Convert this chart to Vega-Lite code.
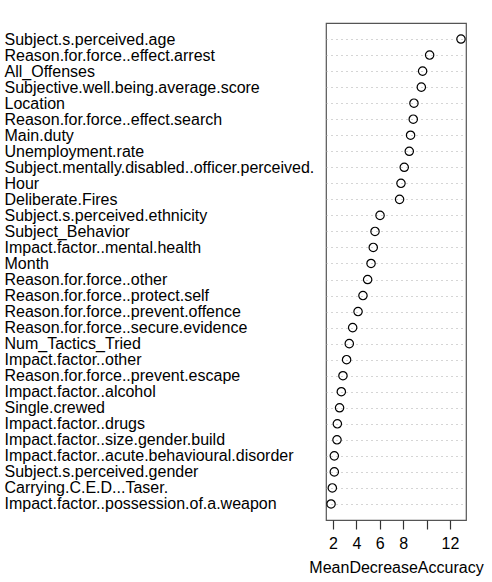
{
  "$schema": "https://vega.github.io/schema/vega-lite/v6.json",
  "autosize": "none",
  "width": 140,
  "height": 497,
  "padding": {"left": 326, "top": 23, "right": 26, "bottom": 62},
  "background": "white",
  "config": {
    "font": "Liberation Sans",
    "view": {"stroke": "#555", "strokeWidth": 1.2}
  },
  "data": {"values": [
    {"var": "Subject.s.perceived.age", "v": 12.94},
    {"var": "Reason.for.force..effect.arrest", "v": 10.26},
    {"var": "All_Offenses", "v": 9.66},
    {"var": "Subjective.well.being.average.score", "v": 9.55},
    {"var": "Location", "v": 8.92},
    {"var": "Reason.for.force..effect.search", "v": 8.86},
    {"var": "Main.duty", "v": 8.63},
    {"var": "Unemployment.rate", "v": 8.52},
    {"var": "Subject.mentally.disabled..officer.perceived.", "v": 8.09},
    {"var": "Hour", "v": 7.81},
    {"var": "Deliberate.Fires", "v": 7.69},
    {"var": "Subject.s.perceived.ethnicity", "v": 6.02},
    {"var": "Subject_Behavior", "v": 5.59},
    {"var": "Impact.factor..mental.health", "v": 5.44},
    {"var": "Month", "v": 5.25},
    {"var": "Reason.for.force..other", "v": 4.96},
    {"var": "Reason.for.force..protect.self", "v": 4.56},
    {"var": "Reason.for.force..prevent.offence", "v": 4.14},
    {"var": "Reason.for.force..secure.evidence", "v": 3.68},
    {"var": "Num_Tactics_Tried", "v": 3.39},
    {"var": "Impact.factor..other", "v": 3.16},
    {"var": "Reason.for.force..prevent.escape", "v": 2.85},
    {"var": "Impact.factor..alcohol", "v": 2.71},
    {"var": "Single.crewed", "v": 2.56},
    {"var": "Impact.factor..drugs", "v": 2.37},
    {"var": "Impact.factor..size.gender.build", "v": 2.34},
    {"var": "Impact.factor..acute.behavioural.disorder", "v": 2.11},
    {"var": "Subject.s.perceived.gender", "v": 2.11},
    {"var": "Carrying.C.E.D...Taser.", "v": 1.94},
    {"var": "Impact.factor..possession.of.a.weapon", "v": 1.83}
  ]},
  "mark": {"type": "point", "shape": "circle", "filled": false, "color": "black", "size": 70, "strokeWidth": 1.2, "opacity": 1},
  "encoding": {
    "y": {
      "field": "var", "type": "nominal", "sort": null,
      "scale": {"type": "point", "padding": 1.03},
      "axis": {
        "title": null, "domain": false, "ticks": false, "tickSize": 0,
        "labelAlign": "left", "labelPadding": 322, "labelLimit": 400,
        "labelFontSize": 16, "labelColor": "black", "labelBaseline": "middle",
        "grid": true, "gridColor": "#aaa", "gridDash": [1, 4], "gridWidth": 1
      }
    },
    "x": {
      "field": "v", "type": "quantitative",
      "scale": {"domain": [1.4, 13.37], "nice": false, "zero": false},
      "axis": {
        "values": [2, 4, 6, 8, 10, 12],
        "labelExpr": "datum.value == 10 ? '' : datum.label",
        "domain": false, "grid": false,
        "tickSize": 9, "tickColor": "#333", "tickWidth": 1.2,
        "labelFontSize": 16, "labelColor": "black", "labelPadding": 6,
        "title": "MeanDecreaseAccuracy", "titleFontSize": 16, "titleFontWeight": "normal",
        "titleColor": "black", "titlePadding": 8
      }
    }
  }
}
